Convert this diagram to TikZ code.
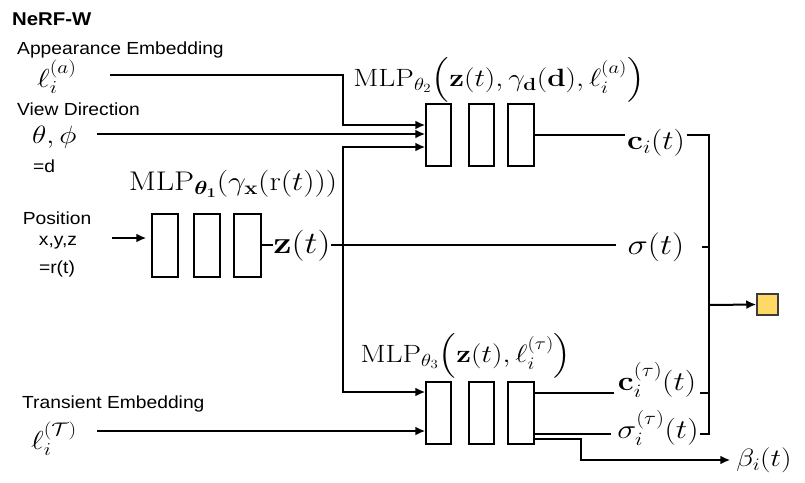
\RequirePackage{fix-cm}
\documentclass[tikz,border=0pt]{standalone}
\usepackage{amsmath,bm}
\usepackage{graphicx}
\usepackage[no-math]{fontspec}
\setmainfont{Liberation Sans}
\usetikzlibrary{arrows.meta}
\newcommand\sx[1]{\scalebox{1.1}[1]{#1}}
\newcommand\mx[1]{\scalebox{1.18}[1]{#1}}
\begin{document}
\begin{tikzpicture}[x=1pt,y=-1pt,
  conn/.style={line width=2pt},
  arr/.style={line width=2pt,-{Latex[length=10pt,width=9pt]}},
  mlpbox/.style={draw,line width=1.5pt,minimum width=25pt,minimum height=62pt,inner sep=0pt},
  txt/.style={font=\fontsize{17.5}{20}\selectfont,inner sep=0pt},
  mlab/.style={font=\fontsize{25}{30}\selectfont,inner sep=0pt},
  llab/.style={font=\fontsize{26}{30}\selectfont,inner sep=0pt},
  olab/.style={font=\fontsize{27}{32}\selectfont,inner sep=0pt},
  outsq/.style={draw={rgb,255:red,60;green,60;blue,60},line width=1.5pt,fill={rgb,255:red,255;green,217;blue,102},minimum size=21pt,inner sep=0pt}
]
\useasboundingbox (0,0) rectangle (805,482);

% texts
\node[anchor=base west,inner sep=0pt,font=\bfseries\fontsize{18.5}{20}\selectfont] (title) at (12,25) {\sx{NeRF-W}};
\node[txt,anchor=base west] (tapp) at (17,54) {\sx{Appearance Embedding}};
\node[txt,anchor=base west] (tview) at (17,115) {\sx{View Direction}};
\node[txt,anchor=base west] (teqd) at (33,172) {\sx{=d}};
\node[txt,anchor=base] (tpos) at (57,224) {\sx{Position}};
\node[txt,anchor=base] (txyz) at (58,245) {\sx{x,y,z}};
\node[txt,anchor=base] (trt) at (57,273) {\sx{=r(t)}};
\node[txt,anchor=base west] (ttr) at (22,408) {\sx{Transient Embedding}};

% left math labels
\node[llab,anchor=base west] (la) at (37,87) {\mx{$\ell_i^{(a)}$}};
\node[mlab,anchor=base west] (lview) at (32,143) {\mx{$\theta,\phi$}};
\node[llab,anchor=base west] (lt) at (31,449) {\mx{$\ell_i^{(\mathcal{T})}$}};

% MLP labels
\node[font=\fontsize{27}{32}\selectfont,inner sep=0pt] (L1) at (233,184) {\mx{$\mathrm{MLP}_{\bm{\theta_1}}(\gamma_{\mathbf{x}}(\mathrm{r}(t)))$}};
\node[mlab] (L2) at (499,80) {\mx{$\mathrm{MLP}_{\theta_2}\Big(\mathbf{z}(t),\gamma_{\mathbf{d}}(\mathbf{d}),\ell_i^{(a)}\Big)$}};
\node[mlab] (L3) at (466,356) {\mx{$\mathrm{MLP}_{\theta_3}\Big(\mathbf{z}(t),\ell_i^{(\tau)}\Big)$}};

% boxes
\node[mlpbox,minimum height=63pt,minimum width=26pt] (b11) at (165,245.5) {};
\node[mlpbox,minimum height=63pt,minimum width=26pt] (b12) at (207,245.5) {};
\node[mlpbox,minimum height=63pt,minimum width=27pt] (b13) at (247.5,245.5) {};
\node[mlpbox] (b21) at (438.5,135) {};
\node[mlpbox] (b22) at (481.5,135) {};
\node[mlpbox,minimum width=26pt] (b23) at (521,135) {};
\node[mlpbox] (b31) at (438.5,413) {};
\node[mlpbox] (b32) at (481.5,413) {};
\node[mlpbox,minimum width=26pt] (b33) at (521,413) {};

% output labels
\node[font=\fontsize{31}{36}\selectfont,inner sep=0pt] (zt) at (302,246) {\mx{$\mathbf{z}(t)$}};
\node[olab] (ci) at (656,143) {\mx{$\mathbf{c}_i(t)$}};
\node[font=\fontsize{29}{34}\selectfont,inner sep=0pt] (sig) at (656,247) {\mx{$\sigma(t)$}};
\node[olab] (cit) at (657,380) {\mx{$\mathbf{c}_i^{(\tau)}(t)$}};
\node[olab] (sit) at (658,428) {\mx{$\sigma_i^{(\tau)}(t)$}};
\node[mlab] (beta) at (764,460) {\mx{$\beta_i(t)$}};
\node[outsq] (sq) at (767.5,304.5) {};

% coordinates
\coordinate (aIn) at (110,75);
\coordinate (dIn) at (97,134);
\coordinate (pIn) at (112,238);
\coordinate (tIn) at (97,431);
\coordinate (jA) at (343,75);
\coordinate (jZ) at (343,245);
\coordinate (rTop) at (709,135);
\coordinate (rMid) at (709,305);
\coordinate (rBot) at (709,434);
\coordinate (yC) at (0,393);

% inputs
\draw[arr] (aIn) -- (jA) |- ([yshift=10pt]b21.west);
\draw[arr] (dIn) -- ([yshift=1pt]b21.west);
\draw[arr] (jZ) |- ([yshift=-12pt]b21.west);
\draw[arr] (jZ) |- ([yshift=21pt]b31.west);
\draw[arr] (tIn) -- ([yshift=-18pt]b31.west);
\draw[arr,shorten >=5pt] (pIn) -- (b11.west |- pIn);

% z line
\draw[conn] (b13.east |- jZ) -- (zt.west |- jZ);
\draw[conn] (zt.east |- jZ) -- ([xshift=-12pt]sig.west |- jZ);

% top output
\draw[conn] (b23.east) -- ([xshift=-2pt]ci.west |- b23.east);
\draw[line width=2.5pt] ([xshift=2pt]ci.east |- rTop) -- (rTop) -- (rBot) -- ++(-9,0);
\draw[conn] ([xshift=-7pt]rTop |- sig) -- (rTop |- sig);
\draw[conn] ([xshift=-9pt]rTop |- yC) -- (rTop |- yC);
\draw[arr] (rMid) -- (sq.west);

% bottom outputs
\draw[conn] ([yshift=20pt]b33.east) -- ([yshift=20pt,xshift=-4pt]b33.east -| cit.west);
\draw[conn] ([yshift=-21pt]b33.east) -- ([yshift=-21pt,xshift=-6pt]b33.east -| sit.west);
\draw[arr,shorten >=6pt] ([yshift=-26pt]b33.east) -- ++(46,0) |- (beta.west);
\end{tikzpicture}
\end{document}
